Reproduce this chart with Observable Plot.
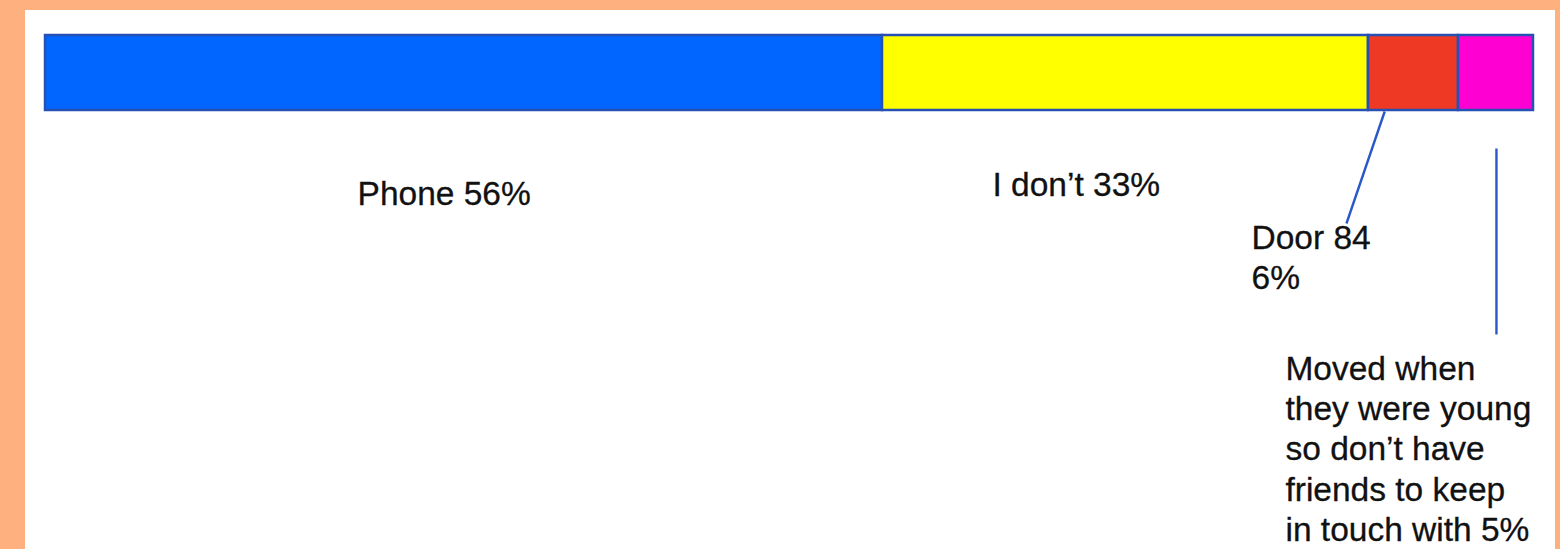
<!DOCTYPE html>
<html>
<head>
<meta charset="utf-8">
<script src="https://cdn.jsdelivr.net/npm/d3@7"></script>
<script src="https://cdn.jsdelivr.net/npm/@observablehq/plot@0.6"></script>
<style>
  html, body { margin: 0; padding: 0; background: #FFB07F; width: 1560px; height: 549px; overflow: hidden; }
  #panel { position: absolute; left: 25px; top: 10px; width: 1530px; height: 539px; background: #ffffff; }
  #chart { position: absolute; left: 0; top: 0; }
</style>
</head>
<body>
<div id="panel"></div>
<div id="chart"></div>
<script>
// ---- data ----
const categories = ["Phone", "I don't", "Door 84", "Moved when they were young so don't have friends to keep in touch with"];
const values = [56.25, 32.66, 6.05, 5.04];           // share of bar
const labels = ["Phone 56%", "I don\u2019t 33%", "Door 84\n6%", "Moved when\nthey were young\nso don\u2019t have\nfriends to keep\nin touch with 5%"];

// ---- layout (pixels / styles, not data) ----
const colors = ["#0066FF", "#FFFF00", "#EE3A24", "#FF00D2"];
const labelX = [20.97, 63.64, 81.05, 83.33];           // left edge of label, in bar units
const labelTop = [176, 167, 220, 351];                 // cap top, px
const leaders = [
  {x1: 90.0, y1: 111, x2: 87.43, y2: 223},
  {x1: 97.51, y1: 148, x2: 97.51, y2: 334}
];

const rows = categories.map((c, i) => ({category: c, value: values[i], color: colors[i]}));
const labelRows = labels.map((t, i) => ({text: t, x: labelX[i], y: labelTop[i]}));

const chart = Plot.plot({
  width: 1560,
  height: 549,
  margin: 0,
  style: {background: "transparent", fontFamily: "'Liberation Sans', Arial, Helvetica, sans-serif"},
  x: {domain: [0, 100], range: [45, 1533], axis: null},
  y: {domain: [0, 549], range: [0, 549], axis: null},
  marks: [
    Plot.rectX(rows, Plot.stackX({
      x: "value",
      y1: () => 35, y2: () => 110,
      order: null,
      fill: "color",
      stroke: "#2650B4",
      strokeWidth: 2.5
    })),
    Plot.link(leaders, {x1: "x1", y1: "y1", x2: "x2", y2: "y2", stroke: "#2A58C8", strokeWidth: 2.4}),
    Plot.text(labelRows, {
      x: "x", y: "y", text: "text",
      textAnchor: "start", lineAnchor: "top", lineHeight: 1.2,
      fontSize: 33.5, fill: "#111111", stroke: "#111111", strokeWidth: 0.3
    })
  ]
});
document.getElementById("chart").appendChild(chart);
</script>
</body>
</html>
